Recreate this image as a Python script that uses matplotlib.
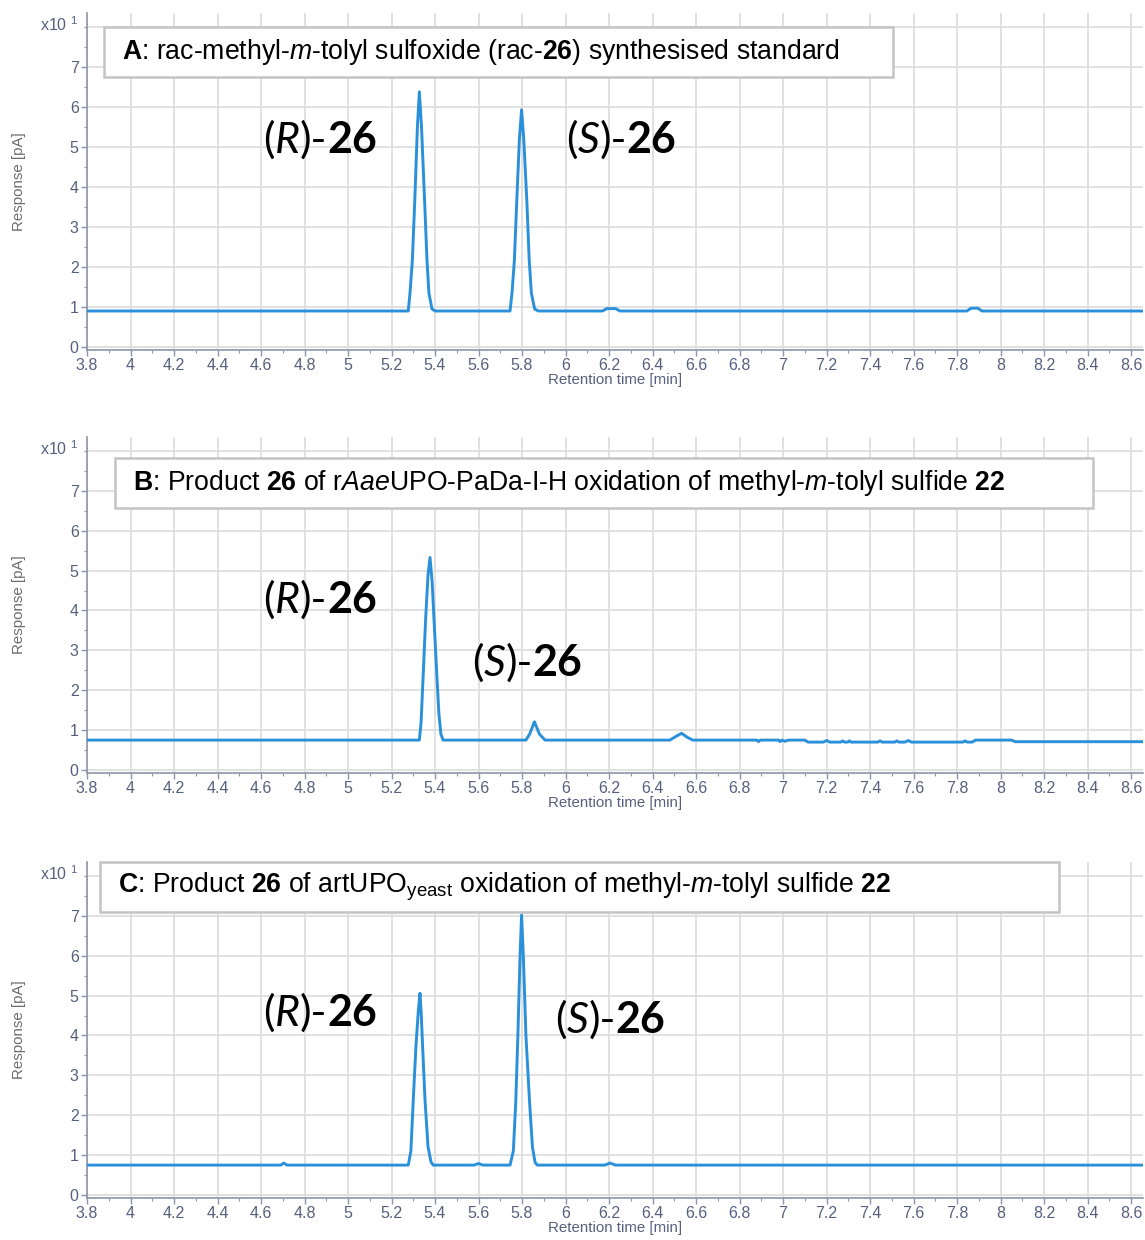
import matplotlib
matplotlib.use("Agg")
import matplotlib.pyplot as plt
from matplotlib.ticker import MultipleLocator, FixedLocator
from matplotlib.patches import Rectangle
from matplotlib.offsetbox import TextArea, HPacker, AnnotationBbox

plt.rcParams['mathtext.fontset'] = 'custom'
plt.rcParams['mathtext.rm'] = 'Liberation Sans'
plt.rcParams['mathtext.it'] = 'Liberation Sans:italic'
plt.rcParams['mathtext.bf'] = 'Liberation Sans:bold'
plt.rcParams['font.family'] = ['Liberation Sans', 'DejaVu Sans']

# ---------------- data ----------------
time_a = [3.80, 5.277, 5.285, 5.296, 5.307, 5.319, 5.328, 5.338, 5.352, 5.363, 5.372, 5.386, 5.401,
          5.745, 5.754, 5.765, 5.776, 5.788, 5.798, 5.808, 5.822, 5.833, 5.843, 5.858, 5.875,
          6.170, 6.190, 6.230, 6.250, 7.845, 7.865, 7.895, 7.915, 8.70]
resp_a = [0.90, 0.90, 1.35, 2.18, 3.67, 5.50, 6.38, 5.50, 3.67, 2.18, 1.35, 0.95, 0.90,
          0.90, 1.35, 2.18, 3.67, 5.20, 5.93, 5.20, 3.67, 2.18, 1.35, 0.95, 0.90,
          0.90, 0.96, 0.96, 0.90, 0.90, 0.97, 0.97, 0.90, 0.90]

time_b = [3.80, 5.328, 5.336, 5.346, 5.357, 5.368, 5.377, 5.387, 5.397, 5.408, 5.418, 5.427, 5.437,
          5.818, 5.835, 5.857, 5.880, 5.906,
          6.480, 6.510, 6.534, 6.560, 6.585,
          6.880, 6.887, 6.895, 6.980, 6.986, 6.995, 7.010, 7.017, 7.030, 7.100, 7.115, 7.185,
          7.201, 7.215, 7.265, 7.274, 7.283, 7.298, 7.305, 7.313, 7.436, 7.446, 7.456, 7.513,
          7.523, 7.533, 7.560, 7.576, 7.590, 7.827, 7.837, 7.847, 7.870, 7.885, 8.050, 8.068, 8.70]
resp_b = [0.75, 0.75, 1.20, 2.42, 3.80, 4.90, 5.33, 4.70, 3.60, 2.42, 1.40, 0.90, 0.75,
          0.75, 0.90, 1.21, 0.90, 0.75,
          0.75, 0.85, 0.92, 0.82, 0.75,
          0.75, 0.71, 0.75, 0.75, 0.71, 0.75, 0.72, 0.74, 0.75, 0.75, 0.70, 0.70,
          0.74, 0.70, 0.70, 0.73, 0.70, 0.70, 0.73, 0.70, 0.70, 0.73, 0.70, 0.70,
          0.73, 0.70, 0.70, 0.74, 0.70, 0.70, 0.73, 0.70, 0.70, 0.75, 0.75, 0.71, 0.71]

time_c = [3.80, 4.690, 4.705, 4.720,
          5.277, 5.289, 5.300, 5.312, 5.323, 5.331, 5.337, 5.344, 5.354, 5.368, 5.382, 5.392,
          5.580, 5.600, 5.620,
          5.745, 5.760, 5.771, 5.781, 5.791, 5.798, 5.806, 5.818, 5.835, 5.848, 5.860, 5.870,
          6.180, 6.205, 6.230, 8.70]
resp_c = [0.75, 0.75, 0.80, 0.75,
          0.75, 1.10, 2.38, 3.70, 4.60, 5.06, 4.50, 3.60, 2.38, 1.20, 0.82, 0.75,
          0.75, 0.79, 0.75,
          0.75, 1.10, 2.30, 4.00, 6.00, 7.02, 6.00, 4.00, 2.30, 1.20, 0.82, 0.75,
          0.75, 0.80, 0.75, 0.75]

x_ticks = [3.8, 4.0, 4.2, 4.4, 4.6, 4.8, 5.0, 5.2, 5.4, 5.6, 5.8, 6.0, 6.2, 6.4, 6.6,
           6.8, 7.0, 7.2, 7.4, 7.6, 7.8, 8.0, 8.2, 8.4, 8.6]
x_tick_labels = ['3.8', '4', '4.2', '4.4', '4.6', '4.8', '5', '5.2', '5.4', '5.6', '5.8', '6',
                 '6.2', '6.4', '6.6', '6.8', '7', '7.2', '7.4', '7.6', '7.8', '8', '8.2', '8.4', '8.6']
y_ticks = [0, 1, 2, 3, 4, 5, 6, 7]

titles = [
    r"$\mathbf{A}$: rac-methyl-$\mathit{m}$-tolyl sulfoxide (rac-$\mathbf{26}$) synthesised standard",
    r"$\mathbf{B}$: Product $\mathbf{26}$ of r$\mathit{Aae}$UPO-PaDa-I-H oxidation of methyl-$\mathit{m}$-tolyl sulfide $\mathbf{22}$",
    r"$\mathbf{C}$: Product $\mathbf{26}$ of artUPO$_{\mathrm{yeast}}$ oxidation of methyl-$\mathit{m}$-tolyl sulfide $\mathbf{22}$",
]
peak_labels = ["R", "S"]

# ---------------- layout ----------------
W, H = 1145, 1240
fig = plt.figure(figsize=(W / 100, H / 100), dpi=100)

def fx(px):
    return px / W

def fy(py):
    return 1 - py / H

panels = [  # (top px, bottom px)
    (13, 350), (437, 773), (862, 1198)]
boxes = [  # x0, y0, x1, y1 in px
    (104, 27, 893, 77), (115, 458, 1093, 508), (100, 862, 1059, 912)]
label_pos = [  # centers of (R)-26 and (S)-26 labels in px
    ((320, 140), (621, 140)),
    ((320, 600), (527, 663)),
    ((320, 1013), (610, 1020))]

traces = [(time_a, resp_a), (time_b, resp_b), (time_c, resp_c)]
line_col = '#2a90da'
tick_col = '#56607e'
spine_col = '#8e93aa'
grid_col = '#dedede'

for i, ((top, bot), (t, r)) in enumerate(zip(panels, traces)):
    x0, x1 = 87, 1143
    ax = fig.add_axes([fx(x0), fy(bot), fx(x1) - fx(x0), (bot - top) / H])
    ax.set_xlim(3.8, 8.655)
    ax.set_ylim(-0.075, 8.35)
    ax.plot(t, r, color=line_col, lw=2.1, solid_joinstyle='round', zorder=3)
    ax.xaxis.set_major_locator(FixedLocator(x_ticks))
    ax.set_xticklabels(x_tick_labels)
    ax.xaxis.set_minor_locator(MultipleLocator(0.1))
    ax.yaxis.set_major_locator(FixedLocator(y_ticks))
    ax.yaxis.set_minor_locator(MultipleLocator(0.5))
    for gx in x_ticks:
        ax.axvline(gx, color=grid_col, lw=1.3, zorder=1)
    for gy in range(0, 9):
        ax.axhline(gy, color=grid_col, lw=1.3, zorder=1)
    for s in ['top', 'right']:
        ax.spines[s].set_visible(False)
    for s in ['left', 'bottom']:
        ax.spines[s].set_color(spine_col)
        ax.spines[s].set_linewidth(1.2)
    ax.tick_params(which='major', length=4, width=1, color=spine_col, labelcolor=tick_col,
                   labelsize=11.5, pad=2)
    ax.tick_params(which='minor', length=2.5, width=0.8, color=spine_col)
    ax.set_xlabel('Retention time [min]', fontsize=10.8, color=tick_col, labelpad=0)
    ax.set_ylabel('Response [pA]', fontsize=10.8, color='#6b6b6b')
    ax.yaxis.set_label_coords(-0.058, 0.5)
    ax.text(-0.008, 8.05, r'x10 $^{1}$', transform=ax.get_yaxis_transform(),
            ha='right', va='center', fontsize=11.5, color=tick_col)

    # title box
    bx0, by0, bx1, by1 = boxes[i]
    rect = Rectangle((fx(bx0), fy(by1)), fx(bx1) - fx(bx0), (by1 - by0) / H,
                     transform=fig.transFigure, facecolor='white', edgecolor='#c4c4c4',
                     lw=1.8, zorder=5, clip_on=False)
    ax.add_patch(rect)
    ax.text(fx(bx0 + 18), fy((by0 + by1) / 2), titles[i], transform=fig.transFigure,
            ha='left', va='center', fontsize=19.2, color='black', zorder=6)

    # peak labels
    for lab, (cx, cy) in zip(peak_labels, label_pos[i]):
        fam = ['Lato', 'DejaVu Sans']
        sz = 31
        pack = HPacker(children=[
            TextArea("(", textprops=dict(family=fam, size=sz)),
            TextArea(lab, textprops=dict(family=fam, size=sz, style='italic')),
            TextArea(")-", textprops=dict(family=fam, size=sz)),
            TextArea("26", textprops=dict(family=fam, size=sz, weight='bold')),
        ], pad=0, sep=0, align='baseline')
        ab = AnnotationBbox(pack, (fx(cx), fy(cy)), xycoords='figure fraction',
                            frameon=False, box_alignment=(0.5, 0.5), pad=0, zorder=7)
        ax.add_artist(ab)

fig.savefig('out.png', dpi=100)
